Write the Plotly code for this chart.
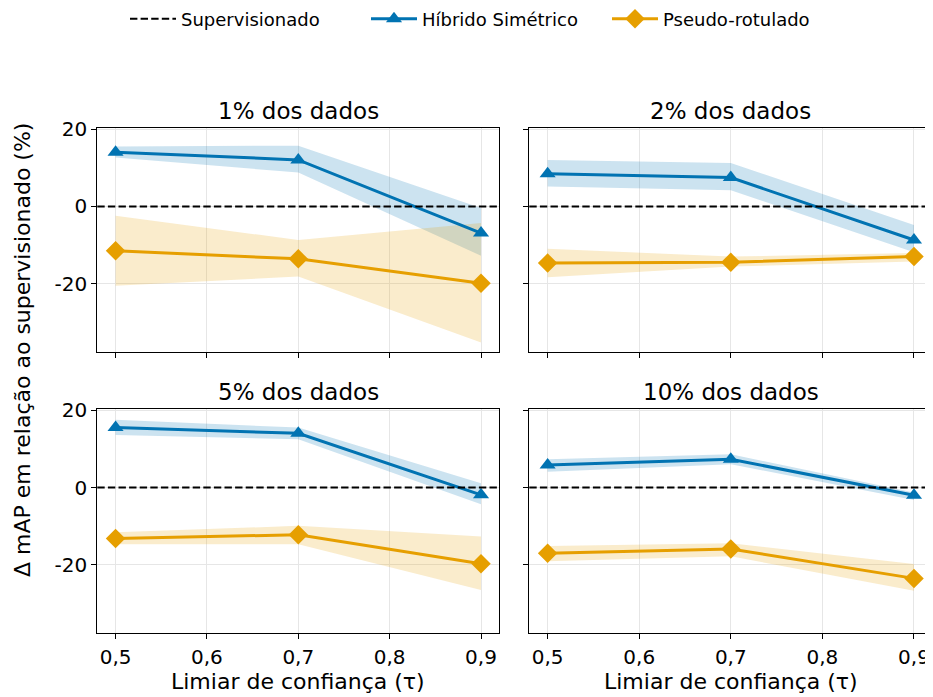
import plotly.graph_objects as go

# ---------------- data ----------------
tau = [0.5, 0.7, 0.9]
panel_titles = ["1% dos dados", "2% dos dados", "5% dos dados", "10% dos dados"]

hib_mean = [[14.1, 12.1, -6.9], [8.5, 7.5, -8.7], [15.5, 14.0, -1.9], [5.8, 7.3, -2.0]]
hib_lo = [[12.7, 8.8, -12.8], [5.2, 4.2, -11.9], [13.6, 12.5, -4.3], [4.1, 6.0, -3.2]]
hib_hi = [[15.6, 15.8, -0.4], [12.1, 11.3, -4.8], [17.5, 15.5, 1.1], [7.3, 8.6, -1.3]]

pse_mean = [[-11.5, -13.6, -19.9], [-14.7, -14.5, -13.0], [-13.2, -12.2, -19.7], [-17.0, -15.9, -23.5]]
pse_lo = [[-20.6, -18.2, -35.3], [-18.4, -15.6, -14.3], [-14.7, -14.7, -26.5], [-19.1, -17.8, -26.7]]
pse_hi = [[-2.4, -8.7, -4.3], [-11.0, -13.0, -12.1], [-11.6, -9.9, -12.7], [-15.1, -14.4, -19.8]]

supervised_ref = 0.0

x_tickvals = [0.5, 0.6, 0.7, 0.8, 0.9]
x_ticktext = ["0,5", "0,6", "0,7", "0,8", "0,9"]
y_tickvals = [-20, 0, 20]
y_ticktext = ["-20", "0", "20"]

series_names = ["Supervisionado", "Híbrido Simétrico", "Pseudo-rotulado"]
x_label = "Limiar de confiança (τ)"
y_label = "Δ mAP em relação ao supervisionado (%)"

# ---------------- style ----------------
OFF = 8  # page body margin in the browser
W, H = 933 - OFF, 697 - OFF
BLUE = "#0173B2"
ORANGE = "#E69F00"
BLUE_BAND = "rgba(1,115,178,0.2)"
ORANGE_BAND = "rgba(230,159,0,0.2)"
FONT = "DejaVu Sans"
DASH = "7.4px,3.2px"


def px(x):  # screen x -> paper fraction
    return (x - OFF) / W


def py(y):  # screen y -> paper fraction
    return 1 - (y - OFF) / H


xdoms = [[px(97.3), px(499.3)], [px(529.3), px(932.3)]]
ydoms = [[py(351.7), py(128.3)], [py(633.3), py(409.0)]]
XR = [0.48, 0.92]
YR = [-37.7, 20.3]

fig = go.Figure()

# legend-only trace for supervised baseline
fig.add_trace(go.Scatter(x=[None], y=[None], mode="lines", name=series_names[0],
                         line=dict(color="black", width=2, dash=DASH),
                         showlegend=True, hoverinfo="skip"))

layout_axes = {}
annotations = []
shapes = []
for i in range(4):
    r, c = divmod(i, 2)
    n = i + 1
    xa = "x" if n == 1 else f"x{n}"
    ya = "y" if n == 1 else f"y{n}"
    xkey = "xaxis" if n == 1 else f"xaxis{n}"
    ykey = "yaxis" if n == 1 else f"yaxis{n}"

    # bands
    fig.add_trace(go.Scatter(x=tau, y=hib_lo[i], mode="lines", line=dict(width=0, color=BLUE_BAND),
                             showlegend=False, hoverinfo="skip", xaxis=xa, yaxis=ya))
    fig.add_trace(go.Scatter(x=tau, y=hib_hi[i], mode="lines", line=dict(width=0, color=BLUE_BAND),
                             fill="tonexty", fillcolor=BLUE_BAND,
                             showlegend=False, hoverinfo="skip", xaxis=xa, yaxis=ya))
    fig.add_trace(go.Scatter(x=tau, y=pse_lo[i], mode="lines", line=dict(width=0, color=ORANGE_BAND),
                             showlegend=False, hoverinfo="skip", xaxis=xa, yaxis=ya))
    fig.add_trace(go.Scatter(x=tau, y=pse_hi[i], mode="lines", line=dict(width=0, color=ORANGE_BAND),
                             fill="tonexty", fillcolor=ORANGE_BAND,
                             showlegend=False, hoverinfo="skip", xaxis=xa, yaxis=ya))
    # lines
    fig.add_trace(go.Scatter(x=tau, y=hib_mean[i], mode="lines+markers", name=series_names[1],
                             line=dict(color=BLUE, width=3),
                             marker=dict(symbol="triangle-up", size=14, color=BLUE),
                             showlegend=(i == 0), xaxis=xa, yaxis=ya))
    fig.add_trace(go.Scatter(x=tau, y=pse_mean[i], mode="lines+markers", name=series_names[2],
                             line=dict(color=ORANGE, width=3),
                             marker=dict(symbol="diamond", size=15, color=ORANGE),
                             showlegend=(i == 0), xaxis=xa, yaxis=ya))

    shapes.append(dict(type="line", xref=f"{xa} domain", yref=ya, x0=0, x1=1,
                       y0=supervised_ref, y1=supervised_ref, layer="above",
                       line=dict(color="black", width=2, dash=DASH)))

    common = dict(ticks="outside", ticklen=5, tickwidth=1.2, tickcolor="black",
                  showline=True, linecolor="black", linewidth=1.3, mirror=True,
                  showgrid=True, gridcolor="#e6e6e6", gridwidth=1, zeroline=False,
                  automargin=False, tickfont=dict(size=20, color="black", family=FONT))
    layout_axes[xkey] = dict(domain=xdoms[c], range=XR, anchor=ya,
                             tickvals=x_tickvals, ticktext=x_ticktext,
                             showticklabels=(r == 1), ticklabelstandoff=1, **common)
    layout_axes[ykey] = dict(domain=ydoms[r], range=YR, anchor=xa,
                             tickvals=y_tickvals, ticktext=y_ticktext,
                             showticklabels=(c == 0), **common)

    # panel title
    annotations.append(dict(text=panel_titles[i], xref="paper", yref="paper",
                            x=(xdoms[c][0] + xdoms[c][1]) / 2,
                            y=ydoms[r][1] + 17 / H, xanchor="center", yanchor="middle",
                            showarrow=False, font=dict(size=23, color="black", family=FONT)))
    if r == 1:
        annotations.append(dict(text=x_label, xref="paper", yref="paper",
                                x=(xdoms[c][0] + xdoms[c][1]) / 2, y=py(681),
                                xanchor="center", yanchor="middle", showarrow=False,
                                font=dict(size=22, color="black", family=FONT)))

annotations.append(dict(text=y_label, xref="paper", yref="paper", x=px(22), y=py(350),
                        xanchor="center", yanchor="middle", textangle=-90, showarrow=False,
                        font=dict(size=22, color="black", family=FONT)))

fig.update_layout(
    width=W, height=H,
    margin=dict(l=0, r=0, t=0, b=0, autoexpand=False),
    paper_bgcolor="white", plot_bgcolor="white",
    font=dict(family=FONT, color="black"),
    separators=",.",
    showlegend=True,
    legend=dict(orientation="h", x=px(125), xanchor="left", y=py(19), yanchor="middle",
                font=dict(size=18, color="black", family=FONT), bgcolor="rgba(0,0,0,0)",
                itemwidth=46, traceorder="normal", entrywidth=180),
    annotations=annotations,
    shapes=shapes,
    **layout_axes,
)

fig.write_html("out.html")
